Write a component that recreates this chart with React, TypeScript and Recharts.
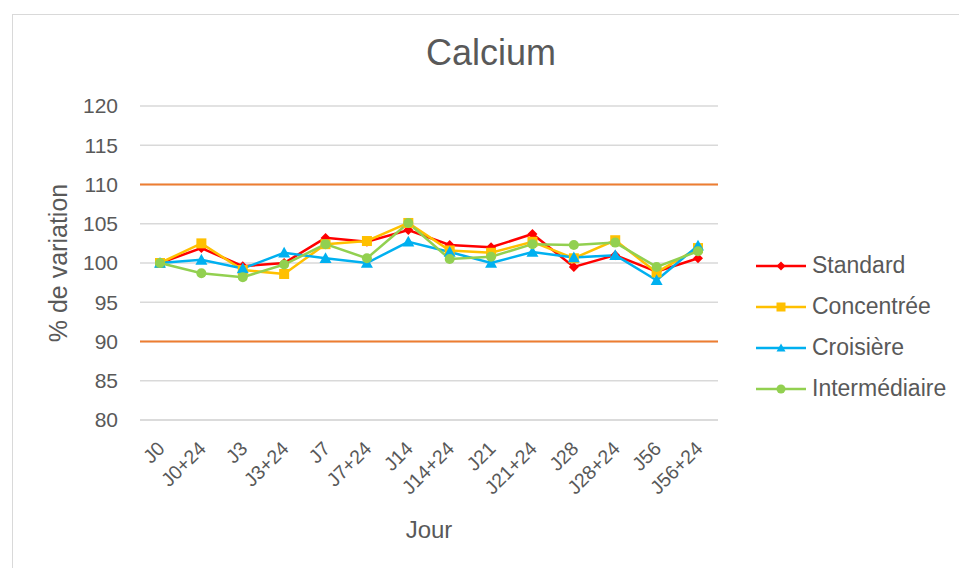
import React from 'react';
import { LineChart, Line, XAxis, YAxis, CartesianGrid, ReferenceLine } from 'recharts';

const jours = ['J0', 'J0+24', 'J3', 'J3+24', 'J7', 'J7+24', 'J14', 'J14+24', 'J21', 'J21+24', 'J28', 'J28+24', 'J56', 'J56+24'];
const standard = [100, 101.9, 99.6, 100, 103.2, 102.7, 104.2, 102.3, 102.0, 103.7, 99.5, 101.0, 98.9, 100.6];
const concentree = [100, 102.5, 99.1, 98.6, 102.4, 102.8, 105.1, 101.6, 101.3, 102.7, 100.6, 102.9, 98.8, 101.9];
const croisiere = [100, 100.4, 99.3, 101.3, 100.6, 100.0, 102.7, 101.4, 100.0, 101.4, 100.7, 101.0, 97.8, 102.2];
const intermediaire = [100, 98.7, 98.2, 99.8, 102.4, 100.6, 105.1, 100.5, 100.8, 102.4, 102.3, 102.6, 99.5, 101.5];
const yTicks = [80, 85, 90, 95, 100, 105, 110, 115, 120];
const limites = [110, 90];

const data = jours.map((j, i) => ({
    jour: j,
    standard: standard[i],
    concentree: concentree[i],
    croisiere: croisiere[i],
    intermediaire: intermediaire[i],
}));

const FONT = '"Liberation Sans", Arial, sans-serif';
const TXT = '#595959';

const Diamond = ({ cx, cy, color, s = 5 }: any) => (
    <path d={`M${cx},${cy - s}L${cx + s},${cy}L${cx},${cy + s}L${cx - s},${cy}Z`} fill={color} />
);
const Square = ({ cx, cy, color, s = 5 }: any) => (
    <rect x={cx - s} y={cy - s} width={2 * s} height={2 * s} fill={color} />
);
const Triangle = ({ cx, cy, color, s = 6 }: any) => (
    <path d={`M${cx},${cy - s}L${cx + s},${cy + s * 0.8}L${cx - s},${cy + s * 0.8}Z`} fill={color} />
);
const Circle = ({ cx, cy, color, s = 5 }: any) => <circle cx={cx} cy={cy} r={s} fill={color} />;

const series = [
    { key: 'standard', name: 'Standard', color: '#FF0000', Shape: Diamond },
    { key: 'concentree', name: 'Concentrée', color: '#FFC000', Shape: Square },
    { key: 'croisiere', name: 'Croisière', color: '#00B0F0', Shape: Triangle },
    { key: 'intermediaire', name: 'Intermédiaire', color: '#92D050', Shape: Circle },
];

const XTick = ({ x, y, payload }: any) => (
    <g transform={`translate(${x + 1},${y + 25})`}>
        <text x={0} y={0} dy="0.35em" textAnchor="end" transform="rotate(-45)" fill={TXT} fontSize={19.5} fontFamily={FONT}>
            {payload.value}
        </text>
    </g>
);

export default function App() {
    return (
        <div style={{ position: 'fixed', left: 0, top: 0, width: 959, height: 568, overflow: 'hidden', background: '#fff', fontFamily: FONT }}>
            <div style={{ position: 'absolute', left: 12, top: 14, width: 980, height: 600, border: '1px solid #D9D9D9', boxSizing: 'border-box' }} />
            <div style={{ position: 'absolute', left: 341, width: 300, top: 32, textAlign: 'center', fontSize: 36, color: TXT }}>Calcium</div>
            <div style={{ position: 'absolute', left: 0, top: 0 }}>
                <LineChart width={959} height={568} data={data} margin={{ top: 106, right: 241, left: 60, bottom: 0 }}>
                    <CartesianGrid vertical={false} stroke="#D9D9D9" strokeWidth={1.5} />
                    <XAxis
                        dataKey="jour"
                        height={148}
                        interval={0}
                        padding={{ left: 20, right: 20 }}
                        tick={<XTick />}
                        tickLine={false}
                        tickSize={0}
                        tickMargin={0}
                        axisLine={{ stroke: '#D9D9D9', strokeWidth: 1.5 }}
                        label={() => (
                            <text x={429} y={538} textAnchor="middle" fill={TXT} fontSize={24} fontFamily={FONT}>
                                Jour
                            </text>
                        )}
                    />
                    <YAxis
                        width={80}
                        domain={[80, 120]}
                        ticks={yTicks}
                        interval={0}
                        axisLine={false}
                        tickLine={false}
                        tickSize={0}
                        tickMargin={22}
                        tick={{ fill: TXT, fontSize: 21, fontFamily: FONT }}
                        label={() => (
                            <text x={67} y={263} transform="rotate(-90, 67, 263)" textAnchor="middle" fill={TXT} fontSize={25} fontFamily={FONT}>
                                % de variation
                            </text>
                        )}
                    />
                    {limites.map((v) => (
                        <ReferenceLine key={v} y={v} stroke="#ED7D31" strokeWidth={2} />
                    ))}
                    {series.map((s) => (
                        <Line
                            key={s.key}
                            dataKey={s.key}
                            name={s.name}
                            type="linear"
                            stroke={s.color}
                            strokeWidth={2.5}
                            isAnimationActive={false}
                            dot={(p: any) => <s.Shape key={`${s.key}-${p.index}`} cx={p.cx} cy={p.cy} color={s.color} />}
                            activeDot={false}
                        />
                    ))}
                </LineChart>
            </div>
            <div style={{ position: 'absolute', left: 756, top: 245 }}>
                {series.map((s, i) => (
                    <div key={s.key} style={{ display: 'flex', alignItems: 'center', height: 41, position: 'absolute', top: i * 41, whiteSpace: 'nowrap' }}>
                        <svg width={52} height={20} style={{ display: 'block' }}>
                            <line x1={0} y1={10} x2={50} y2={10} stroke={s.color} strokeWidth={2.5} />
                            <s.Shape cx={25} cy={10} color={s.color} s={4.5} />
                        </svg>
                        <span style={{ marginLeft: 4, fontSize: 23, color: TXT }}>{s.name}</span>
                    </div>
                ))}
            </div>
        </div>
    );
}
